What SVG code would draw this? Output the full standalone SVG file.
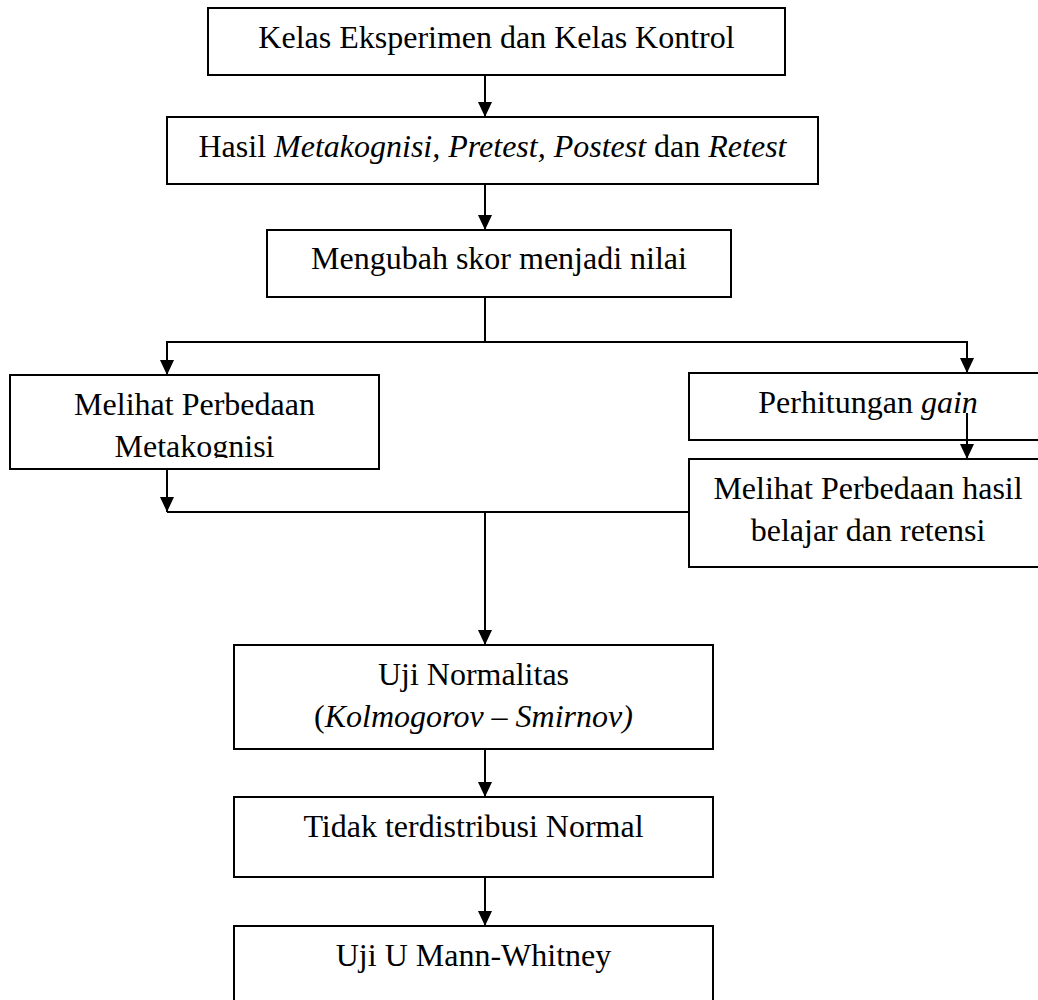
<svg xmlns="http://www.w3.org/2000/svg" width="1038" height="1000" viewBox="0 0 1038 1000">
<style>
.box{fill:#fff;stroke:#000;stroke-width:2}
.t{font-family:"Liberation Serif","Times New Roman",serif;font-size:32px;fill:#000;text-anchor:middle}
.i{font-style:italic}
.c{fill:none;stroke:#000;stroke-width:2}
</style>
<defs>
<marker id="ah" markerUnits="userSpaceOnUse" markerWidth="15" markerHeight="14" viewBox="0 0 15 14" refX="15" refY="7" orient="auto">
<path d="M0,0 L15,7 L0,14 z" fill="#000"/>
</marker>
<clipPath id="clip4"><rect x="10" y="375" width="369" height="83"/></clipPath>
</defs>
<rect width="1038" height="1000" fill="#fff"/>
<g id="connectors">
<line class="c" x1="485" y1="75" x2="485" y2="117" marker-end="url(#ah)"/>
<line class="c" x1="485" y1="184" x2="485" y2="230" marker-end="url(#ah)"/>
<polyline class="c" points="485,297 485,342"/>
<polyline class="c" points="167,342 967,342"/>
<line class="c" x1="167" y1="341" x2="167" y2="375" marker-end="url(#ah)"/>
<line class="c" x1="967" y1="341" x2="967" y2="373" marker-end="url(#ah)"/>
<line class="c" x1="167" y1="469" x2="167" y2="512" marker-end="url(#ah)"/>
<polyline class="c" points="167,512 689,512"/>
<line class="c" x1="485" y1="512" x2="485" y2="645" marker-end="url(#ah)"/>
<line class="c" x1="485" y1="749" x2="485" y2="797" marker-end="url(#ah)"/>
<line class="c" x1="485" y1="877" x2="485" y2="926" marker-end="url(#ah)"/>
</g>
<g id="n1"><rect class="box" x="208" y="8" width="577" height="67"/><text class="t" x="496.5" y="48">Kelas Eksperimen dan Kelas Kontrol</text></g>
<g id="n2"><rect class="box" x="167" y="117" width="651" height="67"/><text class="t" x="492.5" y="157">Hasil <tspan class="i">Metakognisi, Pretest, Postest</tspan> dan <tspan class="i">Retest</tspan></text></g>
<g id="n3"><rect class="box" x="267" y="230" width="464" height="67"/><text class="t" x="499" y="269">Mengubah skor menjadi nilai</text></g>
<g id="n4"><rect class="box" x="10" y="375" width="369" height="94"/><g clip-path="url(#clip4)"><text class="t" x="194.5" y="415">Melihat Perbedaan</text><text class="t" x="194.5" y="457">Metakognisi</text></g></g>
<g id="n5"><rect class="box" x="689" y="373" width="360" height="67"/><text class="t" x="868" y="413">Perhitungan <tspan class="i">gain</tspan></text></g>
<g id="n6"><rect class="box" x="689" y="459" width="360" height="108"/><text class="t" x="868" y="499">Melihat Perbedaan hasil</text><text class="t" x="868" y="541">belajar dan retensi</text></g>
<g id="n7"><rect class="box" x="234" y="645" width="479" height="104"/><text class="t" x="473.5" y="685">Uji Normalitas</text><text class="t" x="473.5" y="727">(<tspan class="i">Kolmogorov – Smirnov)</tspan></text></g>
<g id="n8"><rect class="box" x="234" y="797" width="479" height="80"/><text class="t" x="473.5" y="837">Tidak terdistribusi Normal</text></g>
<g id="n9"><rect class="box" x="234" y="926" width="479" height="90"/><text class="t" x="473.5" y="966">Uji U Mann-Whitney</text></g>
<line class="c" x1="967" y1="413" x2="967" y2="459" marker-end="url(#ah)"/>
</svg>
